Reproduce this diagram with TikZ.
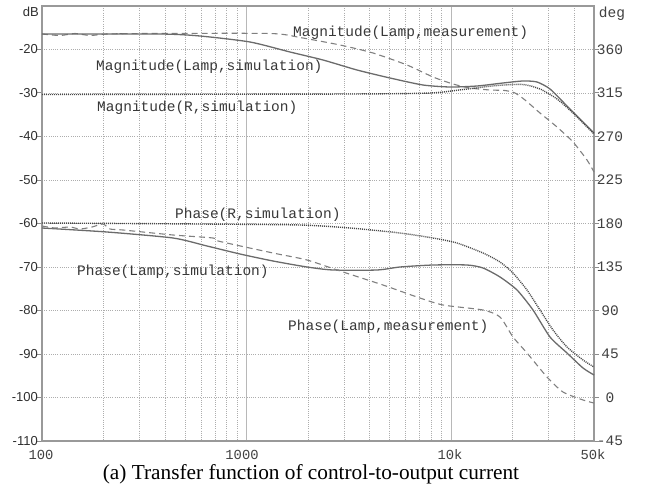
\documentclass[tikz,border=0pt]{standalone}
\usepackage{fontspec}
\setmainfont{Liberation Serif}
\newfontfamily\plotmono{Liberation Mono}
\newfontfamily\plotsans{Liberation Sans}
\begin{document}
\begin{tikzpicture}[x=1pt,y=-1pt,
  frame/.style={draw=black!40, line width=1.6pt},
  gridmin/.style={draw=black!32, line width=0.6pt, dash pattern=on 1pt off 1.2pt},
  griddec/.style={draw=black!28, line width=0.7pt},
  tickmark/.style={draw=black!45, line width=1pt},
  meas/.style={draw=black!50, line width=1.1pt, dash pattern=on 6pt off 4pt},
  lampsim/.style={draw=black!58, line width=1.3pt},
  rsim/.style={draw=black!72, line width=1.4pt, dash pattern=on 1pt off 1pt},
  curvelabel/.style={font=\plotmono\fontsize{14.5}{16}\selectfont, text=black!78, inner sep=0pt, anchor=west},
  leftlabel/.style={font=\plotsans\fontsize{13}{15}\selectfont, text=black!82, inner sep=0pt, anchor=east},
  rightlabel/.style={font=\plotmono\fontsize{14.5}{16}\selectfont, text=black!75, inner sep=0pt},
  bottomlabel/.style={font=\plotmono\fontsize{13.8}{15}\selectfont, text=black!75, inner sep=0pt},
  captionstyle/.style={font=\fontsize{21.3}{24}\selectfont, text=black, inner sep=0pt}
]
\useasboundingbox (0,0) rectangle (650,492);

% vertical grid: 2..9 within each decade, solid lines at the decades
\foreach \d in {0,1}{
  \foreach \m in {2,...,9}{
    \draw[gridmin] ({42+204.5*(\d+log10(\m))},6) -- ++(0,435);
  }
}
\foreach \m in {2,3,4}{
  \draw[gridmin] ({42+204.5*(2+log10(\m))},6) -- ++(0,435);
}
\draw[griddec] (246.5,6) -- (246.5,441);
\draw[griddec] (451,6) -- (451,441);

% horizontal grid every 10 dB
\foreach \k in {1,...,9}{
  \draw[gridmin] (42,{6+43.5*\k}) -- (594,{6+43.5*\k});
}

% axis ticks
\foreach \k in {1,...,10}{
  \draw[tickmark] (37,{6+43.5*\k}) -- (42,{6+43.5*\k});
  \draw[tickmark] (594,{6+43.5*\k}) -- (599,{6+43.5*\k});
}

% plot frame
\draw[frame] (42,6) rectangle (594,441);

% left axis (dB)
\node[leftlabel] (dB) at (39,12) {dB};
\foreach \v [count=\k] in {-20,-30,-40,-50,-60,-70,-80,-90,-100,-110}{
  \node[leftlabel] (l\k) at (38,{6+43.5*\k}) {\v};
}

% right axis (deg)
\node[rightlabel] (deg) at (612,14) {deg};
\foreach \v [count=\k] in {360,315,270,225,180,135,90,45,0,-45}{
  \node[rightlabel] (r\k) at (610,{6+43.5*\k}) {\v};
}

% frequency axis
\node[bottomlabel] (f100) at (41,455) {100};
\node[bottomlabel] (f1k) at (242,455) {1000};
\node[bottomlabel] (f10k) at (450,455) {10k};
\node[bottomlabel] (f50k) at (593,455) {50k};

% magnitude, lamp, measured
\draw[meas] plot[smooth, tension=0.4] coordinates {
  (42,34) (60,35.5) (75,33.5) (90,35.5) (107,34) (150,33.5) (270,33.5)
  (300,37.5) (340,45) (373,53) (407,65) (433,77) (453,84) (470,88)
  (490,90) (505,90.5) (515,93) (525,100) (540,113) (557,127) (573,142)
  (587,160) (594,172)};
% magnitude, lamp, simulated
\draw[lampsim] plot[smooth, tension=0.4] coordinates {
  (42,34) (160,34) (200,36) (250,42) (290,52) (323,60) (357,70) (390,78)
  (423,85) (450,87) (477,86) (503,83) (523,81) (537,82) (550,89)
  (567,106) (583,122) (594,133)};
% magnitude, resistor, simulated
\draw[rsim] plot[smooth, tension=0.4] coordinates {
  (42,94.5) (350,94) (430,93) (463,89.5) (497,85.5) (523,84.5) (540,89)
  (557,99) (573,113) (594,134)};

% phase, resistor, simulated
\draw[rsim] plot[smooth, tension=0.4] coordinates {
  (42,223) (200,224) (300,225) (350,228) (400,233) (433,238) (457,243)
  (483,253) (500,262) (513,273) (527,290) (540,310) (553,330) (567,347)
  (583,360) (594,367)};
% phase, lamp, simulated
\draw[lampsim] plot[smooth, tension=0.4] coordinates {
  (42,228) (107,232) (173,238) (207,246) (240,254) (273,261) (307,267)
  (333,270) (377,270) (400,267) (433,265) (467,265) (483,268) (500,277)
  (517,290) (533,310) (550,337) (567,353) (583,368) (594,375)};
% phase, lamp, measured
\draw[meas] plot[smooth, tension=0.4] coordinates {
  (42,226) (55,228) (70,227) (80,229) (92,227) (103,224) (110,229)
  (123,230) (173,235) (213,238) (218,241) (273,253) (307,260) (343,272)
  (383,285) (417,297) (443,305) (483,310) (500,317) (513,337) (527,353)
  (547,377) (563,392) (583,400) (594,403)};

% curve names
\node[curvelabel] (nMagMeas) at (293,33) {Magnitude(Lamp,measurement)};
\node[curvelabel] (nMagLamp) at (96,67) {Magnitude(Lamp,simulation)};
\node[curvelabel] (nMagR) at (97,108) {Magnitude(R,simulation)};
\node[curvelabel] (nPhR) at (175,215) {Phase(R,simulation)};
\node[curvelabel] (nPhLamp) at (77,272) {Phase(Lamp,simulation)};
\node[curvelabel] (nPhMeas) at (288,327) {Phase(Lamp,measurement)};

% caption
\node[captionstyle] (cap) at (311,474) {(a) Transfer function of control-to-output current};
\end{tikzpicture}
\end{document}
